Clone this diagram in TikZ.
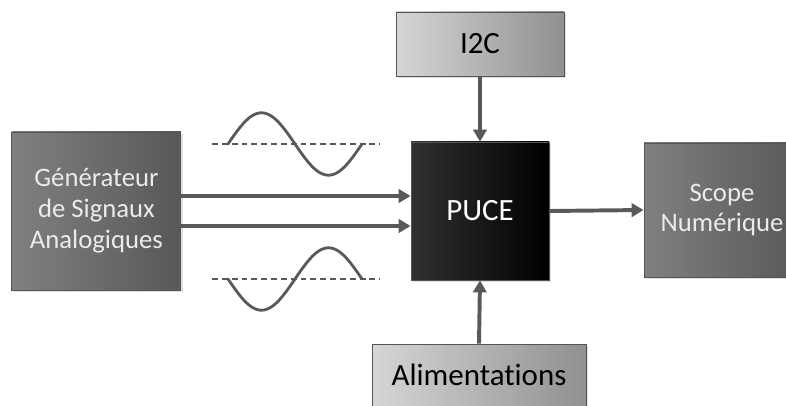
\documentclass[tikz,border=0pt]{standalone}
\usepackage{fontspec}
\setmainfont{Carlito}[Ligatures=NoCommon]
\usetikzlibrary{arrows.meta,positioning,shadows}
\definecolor{LinkGray}{HTML}{595959}
\definecolor{BoxEdge}{HTML}{555555}
\definecolor{DarkLeft}{HTML}{808080}
\definecolor{DarkRight}{HTML}{585858}
\definecolor{LightLeft}{HTML}{D6D6D6}
\definecolor{LightRight}{HTML}{909090}
\definecolor{ChipLeft}{HTML}{303030}
\newcommand{\bigtxt}{\fontsize{22}{26}\selectfont}
\newcommand{\midtxt}{\fontsize{19}{22}\selectfont}

\begin{document}
\begin{tikzpicture}[
    box/.style={
      draw=BoxEdge,
      line width=0.6pt,
      align=center,
      inner sep=0pt,
      drop shadow={shadow xshift=1.5pt, shadow yshift=-1.5pt, opacity=0.25}
    },
    darkbox/.style={
      box,
      left color=DarkLeft,
      right color=DarkRight,
      text=white!92!black,
      font=\midtxt
    },
    lightbox/.style={
      box,
      left color=LightLeft,
      right color=LightRight,
      text=black,
      font=\bigtxt
    },
    chip/.style={
      box,
      left color=ChipLeft,
      right color=black,
      text=white,
      font=\bigtxt
    },
    arrow/.style={
      -{Triangle[length=8.5pt,width=9.5pt]},
      line width=2.8pt,
      color=LinkGray
    },
    wave/.style={
      line width=2pt,
      color=LinkGray,
      line cap=round
    },
    guide/.style={
      line width=0.9pt,
      color=LinkGray,
      dash pattern=on 4.2pt off 2.8pt
    }
  ]

  \clip (0,0) rectangle (19.65,10.125);
  \useasboundingbox (0,0) rectangle (19.65,10.125);

  \node[darkbox, minimum width=4.225cm, minimum height=3.95cm]  (gen)   at (2.41,4.85)
    {Générateur\\de Signaux\\Analogiques};
  \node[chip, minimum width=3.45cm, minimum height=3.45cm]      (puce)  at (12.0,4.85)  {PUCE};
  \node[lightbox, minimum width=4.2cm, minimum height=1.6cm]    (i2c)   at (12.0,9.025) {I2C};
  \node[lightbox, minimum width=5.35cm, minimum height=1.55cm]  (alim)  at (11.975,0.75) {Alimentations};
  \node[darkbox, minimum width=3.9cm, minimum height=3.35cm]    (scope) at (18.05,4.875)
    {Scope\\Numérique};

  % signal lines
  \draw[arrow] ([yshift=0.375cm]gen.east) -- ([yshift=0.375cm]puce.west);
  \draw[arrow] ([yshift=-0.375cm]gen.east) -- ([yshift=-0.375cm]puce.west);
  \draw[arrow] (puce.east) -- (scope.west);
  \draw[arrow] (i2c.south) -- (puce.north);
  \draw[arrow] (alim.north) -- (puce.south);

  % sine sketches
  \draw[guide] (5.3,6.525) -- (9.5,6.525);
  \draw[guide] (5.3,3.15) -- (9.5,3.15);
  \draw[wave] plot[domain=0:360, samples=60]
    ({5.7+\x/360*3.35}, {6.525+0.78*sin(\x)});
  \draw[wave] plot[domain=0:360, samples=60]
    ({5.7+\x/360*3.35}, {3.15-0.78*sin(\x)});

\end{tikzpicture}
\end{document}
